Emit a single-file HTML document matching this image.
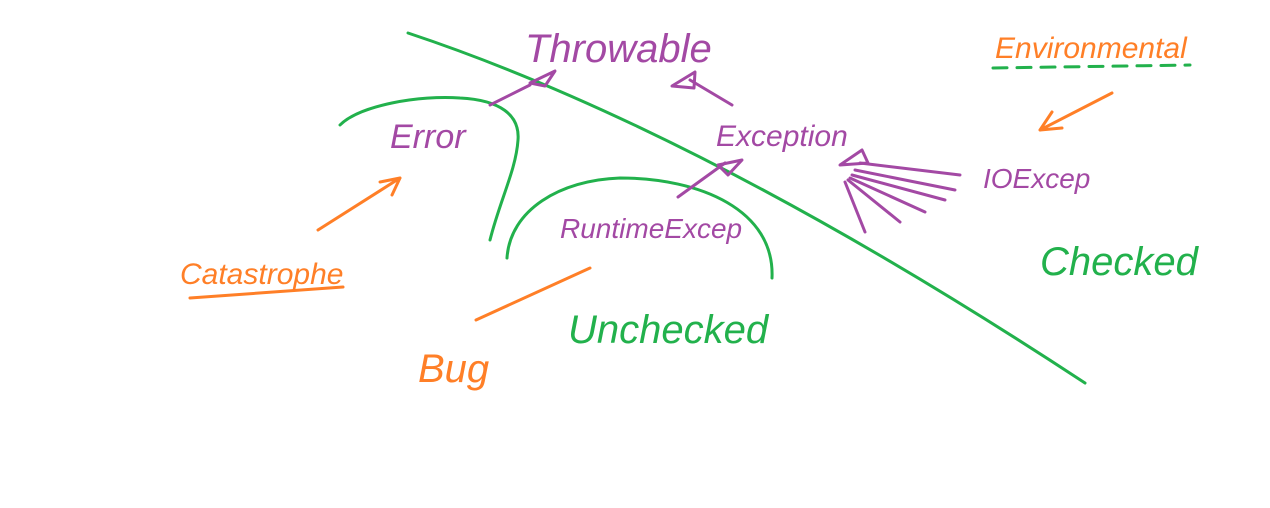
<!DOCTYPE html>
<html><head><meta charset="utf-8"><style>
html,body{margin:0;padding:0;background:#fff;}
svg{display:block;}
text{font-family:"Liberation Sans",sans-serif;font-style:italic;}
</style></head><body>
<svg width="1270" height="508" viewBox="0 0 1270 508" xmlns="http://www.w3.org/2000/svg" fill="none" stroke-linecap="round" stroke-linejoin="round">
<g stroke="#22b14c" stroke-width="3">
<path d="M408,33 Q700,130 1085,383"/>
<path d="M340,125 C360,105 420,95 460,98 C500,100 520,115 518,140 C516,170 500,200 490,240"/>
<path d="M507,258 C510,210 560,180 620,178 C700,178 775,210 772,278"/>
<path d="M993,68 L1190,65" stroke-dasharray="14,10"/>
</g>
<g stroke="#a349a4" stroke-width="3">
<path d="M490,105 L530,85"/>
<path d="M530,83 L555,71 L545,86 Z"/>
<path d="M732,105 L690,80"/>
<path d="M672,86 L695,72 L694,88 Z"/>
<path d="M678,197 L725,163"/>
<path d="M718,165 L742,160 L728,175 Z"/>
<path d="M840,165 L862,150 L868,163 Z"/>
<path d="M960,175 L860,163"/>
<path d="M955,190 L855,170"/>
<path d="M945,200 L852,175"/>
<path d="M925,212 L850,178"/>
<path d="M900,222 L848,180"/>
<path d="M865,232 L845,182"/>
</g>
<g stroke="#ff7f27" stroke-width="3">
<path d="M1112,93 L1040,130 M1040,130 L1052,112 M1040,130 L1062,128"/>
<path d="M318,230 L400,178 M400,178 L380,182 M400,178 L392,195"/>
<path d="M190,298 L343,287"/>
<path d="M476,320 L590,268"/>
</g>
<g stroke="none">
<text x="525" y="62" font-size="40" fill="#a349a4">Throwable</text>
<text x="390" y="148" font-size="34" fill="#a349a4">Error</text>
<text x="716" y="146" font-size="30" fill="#a349a4">Exception</text>
<text x="560" y="238" font-size="28" fill="#a349a4">RuntimeExcep</text>
<text x="983" y="188" font-size="28" fill="#a349a4">IOExcep</text>
<text x="995" y="58" font-size="30" fill="#ff7f27">Environmental</text>
<text x="180" y="284" font-size="30" fill="#ff7f27">Catastrophe</text>
<text x="418" y="382" font-size="40" fill="#ff7f27">Bug</text>
<text x="1040" y="275" font-size="40" fill="#22b14c">Checked</text>
<text x="568" y="343" font-size="40" fill="#22b14c">Unchecked</text>
</g>
</svg>
</body></html>
